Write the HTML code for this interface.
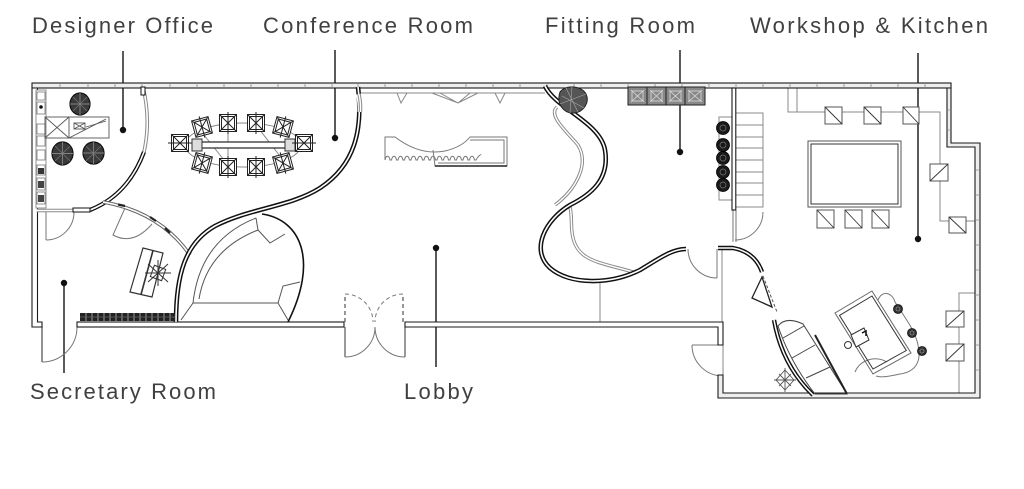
<!DOCTYPE html>
<html><head><meta charset="utf-8"><style>
html,body{margin:0;padding:0;background:#fff;}
svg{display:block;}
text{font-family:"Liberation Sans",sans-serif;font-size:22px;fill:#404040;}
</style></head><body>
<svg width="1024" height="489" viewBox="0 0 1024 489" xmlns="http://www.w3.org/2000/svg">
<rect width="1024" height="489" fill="#fff"/>

<!-- Labels -->
<text x="32" y="33" textLength="181" lengthAdjust="spacing">Designer Office</text>
<text x="263" y="33" textLength="210" lengthAdjust="spacing">Conference Room</text>
<text x="545" y="33" textLength="150" lengthAdjust="spacing">Fitting Room</text>
<text x="750" y="33" textLength="238" lengthAdjust="spacing">Workshop &amp; Kitchen</text>
<text x="30" y="399" textLength="186" lengthAdjust="spacing">Secretary Room</text>
<text x="404" y="399" textLength="69" lengthAdjust="spacing">Lobby</text>

<!-- Leader lines -->
<g stroke="#222" stroke-width="1.5">
<line x1="123" y1="51" x2="123" y2="130"/>
<line x1="335" y1="50" x2="335" y2="138"/>
<line x1="680" y1="50" x2="680" y2="152"/>
<line x1="918" y1="53" x2="918" y2="239"/>
<line x1="64" y1="283" x2="64" y2="373"/>
<line x1="436" y1="248" x2="436" y2="367"/>
</g>
<g fill="#111">
<circle cx="123" cy="130" r="3.2"/>
<circle cx="335" cy="138" r="3.2"/>
<circle cx="680" cy="152" r="3.2"/>
<circle cx="918" cy="239" r="3.2"/>
<circle cx="64" cy="283" r="3.2"/>
<circle cx="436" cy="248" r="3.2"/>
</g>

<!-- Thin interior gray lines -->
<g stroke="#888" stroke-width="1" fill="none">
<line x1="357" y1="93" x2="545" y2="93"/>
<path d="M397,93 L401,103 L407,93"/>
<path d="M495,93 L500,103 L505,93"/>
<path d="M432,93 L458,103 L478,93 M440,93 L458,103 L470,93"/>
<line x1="600" y1="283" x2="600" y2="322"/>
<line x1="722" y1="249" x2="722" y2="322"/>
<line x1="723" y1="345" x2="723" y2="375"/>
<rect x="788" y="88" width="9" height="24"/>
<polyline points="797,112 940,112 940,221 976,221"/>
<polyline points="959,398 959,293 976,293"/>
<rect x="735" y="113" width="28" height="94"/>
<line x1="735" y1="125" x2="763" y2="125"/>
<line x1="735" y1="137" x2="763" y2="137"/>
<line x1="735" y1="148" x2="763" y2="148"/>
<line x1="735" y1="160" x2="763" y2="160"/>
<line x1="735" y1="172" x2="763" y2="172"/>
<line x1="735" y1="183" x2="763" y2="183"/>
<line x1="735" y1="195" x2="763" y2="195"/>
<rect x="719" y="117" width="13" height="83"/>
</g>

<!-- Doors -->
<g stroke="#777" stroke-width="1" fill="none">
<line x1="42" y1="327" x2="42" y2="362" stroke-width="1.6"/>
<path d="M77,327 A35,35 0 0 1 42,362"/>
<line x1="46" y1="212" x2="46" y2="240"/>
<path d="M46,240 A28,28 0 0 0 74,212"/>
<path d="M125,208 L113,235 Q133,246 152,224"/>
<line x1="345" y1="327" x2="345" y2="357" stroke-width="1.5"/>
<path d="M345,357 A30,30 0 0 0 375,327"/>
<line x1="405" y1="327" x2="405" y2="357" stroke-width="1.5"/>
<path d="M405,357 A30,30 0 0 1 375,327"/>
<g stroke-dasharray="4,3">
<line x1="345" y1="322" x2="345" y2="294" stroke-width="1.5"/>
<path d="M345,294 A28,28 0 0 1 373,322"/>
<line x1="403" y1="322" x2="403" y2="294" stroke-width="1.5"/>
<path d="M403,294 A28,28 0 0 0 375,322"/>
</g>
<line x1="717" y1="249" x2="717" y2="278"/>
<path d="M688,249 A29,29 0 0 0 717,278"/>
<path d="M735,240 A28,28 0 0 0 763,212"/>
<line x1="692" y1="345" x2="720" y2="345"/>
<path d="M692,345 A31,31 0 0 0 723,376"/>
<line x1="733" y1="210" x2="733" y2="242"/>
<line x1="736" y1="210" x2="736" y2="242"/>
</g>

<!-- Outer walls -->
<g stroke="#1a1a1a" stroke-width="1.1">
<rect x="32" y="83" width="919" height="5" fill="#eee"/>
<polygon points="32,88 37.5,88 37.5,322 42,322 42,327 32,327" fill="#fff"/>
<rect x="77" y="322" width="267" height="5" fill="#fff"/>
<polygon points="405,322 723,322 723,345 718,345 718,327 405,327" fill="#fff"/>
<polygon points="718,375 718,398 980,398 980,143 951,143 951,88 947,88 947,147 975,147 975,393 723,393 723,375" fill="#eee"/>
<rect x="732" y="88" width="3.8" height="122" fill="#fff"/>
</g>
<g stroke="#888" stroke-width="0.8">
<path d="M60,83v5M88,83v5M115,83v5M142,83v5M170,83v5M197,83v5M224,83v5M251,83v5M278,83v5M305,83v5M332,83v5M358,83v5M385,83v5M412,83v5M439,83v5M466,83v5M493,83v5M520,83v5M547,83v5M574,83v5M601,83v5M628,83v5M655,83v5M682,83v5M709,83v5M736,83v5M763,83v5M790,83v5M817,83v5M844,83v5M871,83v5M898,83v5M925,83v5"/>
<path d="M947,110h4M947,130h4M975,170h5M975,195h5M975,220h5M975,245h5M975,270h5M975,295h5M975,320h5M975,345h5M975,370h5"/>
</g>

<!-- Designer office walls -->
<g fill="none">
<path d="M143,87 Q151,120 144,152" stroke="#888" stroke-width="3.6"/>
<path d="M143,87 Q151,120 144,152" stroke="#fff" stroke-width="1.6"/>
<path d="M144,152 Q128,195 90,210" stroke="#111" stroke-width="4.2"/>
<path d="M144,152 Q128,195 90,210" stroke="#fff" stroke-width="1.6"/>
<path d="M37,210.5 L73,210.5" stroke="#888" stroke-width="3.5"/>
<path d="M37,210.5 L73,210.5" stroke="#fff" stroke-width="1.5"/>
<path d="M103,202 Q160,212 190,255" stroke="#666" stroke-width="3.6"/>
<path d="M103,202 Q160,212 190,255" stroke="#fff" stroke-width="1.6"/>
</g>
<rect x="73" y="208" width="17" height="4" fill="#fff" stroke="#111" stroke-width="1"/>
<rect x="141" y="87" width="4" height="8" fill="#fff" stroke="#111" stroke-width="1"/>
<g stroke="#222" stroke-width="2.2">
<line x1="118" y1="204.5" x2="125" y2="206"/>
<line x1="150" y1="217" x2="156" y2="221"/>
<line x1="165" y1="228" x2="170" y2="233"/>
</g>

<!-- Conference S wall -->
<path d="M358,87 C363,130 355,165 320,188 C290,207 250,208 215,226 C185,243 176,275 176,322" fill="none" stroke="#111" stroke-width="4.6"/>
<path d="M358,87 C363,130 355,165 320,188 C290,207 250,208 215,226 C185,243 176,275 176,322" fill="none" stroke="#fff" stroke-width="1.6"/>
<path d="M359,94 Q361,103 360.5,112" fill="none" stroke="#fff" stroke-width="6"/>
<path d="M359,94 Q361,103 360.5,112" fill="none" stroke="#888" stroke-width="3.4"/>
<path d="M359,94 Q361,103 360.5,112" fill="none" stroke="#fff" stroke-width="1.4"/>

<!-- Reception desk -->
<g fill="none" stroke="#555" stroke-width="1">
<path d="M262,214 C302,220 318,262 288,322" stroke="#111" stroke-width="1.6"/>
<path d="M181,320 L193,303 L278,303 L288,320"/>
<path d="M193,303 Q200,240 256,218"/>
<path d="M199,299 Q207,250 258,230"/>
<path d="M256,218 L258,230 L270,243 L285,234"/>
<path d="M278,303 L283,286 L300,282"/>
</g>

<!-- Fitting room S wall -->
<path d="M557,107 C548,115 565,130 578,145 C590,165 575,190 555,205 M570,207 C572,215 571,225 572,232 C575,262 600,262 633,272" fill="none" stroke="#888" stroke-width="3.4"/>
<path d="M557,107 C548,115 565,130 578,145 C590,165 575,190 555,205 M570,207 C572,215 571,225 572,232 C575,262 600,262 633,272" fill="none" stroke="#fff" stroke-width="1.5"/>
<path d="M545,86 C555,108 600,122 605,150 C610,180 590,195 570,205 C545,220 530,250 550,268 C570,285 610,285 640,270 C660,258 672,249 686,249" fill="none" stroke="#111" stroke-width="4.6"/>
<path d="M545,86 C555,108 600,122 605,150 C610,180 590,195 570,205 C545,220 530,250 550,268 C570,285 610,285 640,270 C660,258 672,249 686,249" fill="none" stroke="#fff" stroke-width="1.6"/>

<!-- Workshop curved walls -->
<path d="M718,248 L733,248 Q755,252 762,272" fill="none" stroke="#111" stroke-width="4.4"/>
<path d="M718,248 L733,248 Q755,252 762,272" fill="none" stroke="#fff" stroke-width="1.5"/>
<path d="M774,320 Q782,365 813,395" fill="none" stroke="#111" stroke-width="4.4"/>
<path d="M774,320 Q782,365 813,395" fill="none" stroke="#fff" stroke-width="1.5"/>
<polygon points="762,277 752,298 772,307" fill="none" stroke="#222" stroke-width="1.3"/>
<line x1="763" y1="276" x2="777" y2="312" stroke="#555" stroke-width="1" stroke-dasharray="3,2"/>
<g fill="none" stroke="#444" stroke-width="1">
<path d="M778,326 Q786,316 803,324 L847,394 L815,394 Q790,362 778,326 Z"/>
<line x1="783" y1="338" x2="804" y2="326"/>
<line x1="792" y1="358" x2="815" y2="345"/>
<line x1="806" y1="378" x2="830" y2="367"/>
</g>
<line x1="815" y1="335" x2="847" y2="394" stroke="#222" stroke-width="2"/>

<!-- Lobby sculpture -->
<g fill="none" stroke="#777" stroke-width="1">
<path d="M385,160 L385,137 L395,137 Q420,156 445,151 Q462,147 470,137 L507,137 L507,166 L435,166 L433,150"/>
<path d="M470,140 L504,140 L504,163 L438,163"/>
<path d="M385,160 c1,-5 4,-5 5,0 l1.5,0 c1,-5 4,-5 5,0 l1.5,0 c1,-5 4,-5 5,0 l1.5,0 c1,-5 4,-5 5,0 l1.5,0 c1,-5 4,-5 5,0 l1.5,0 c1,-5 4,-5 5,0 l1.5,0 c1,-5 4,-5 5,0 l1.5,0 c1,-5 4,-5 5,0 l1.5,0 c1,-5 4,-5 5,0 l1.5,0 c1,-5 4,-5 5,0 l1.5,0 c1,-5 4,-5 5,0 l1.5,0 c1,-5 4,-5 5,0 l1.5,0 c1,-5 4,-5 5,0 l1.5,0 c1,-5 4,-5 5,0 l1.5,0 c2,-4 5,-6 5,-5"/>
</g>
<line x1="435" y1="166" x2="507" y2="166" stroke="#222" stroke-width="1.4"/>

<!-- Designer office furniture -->
<g stroke="#777" stroke-width="0.8" fill="#fff">
<rect x="36" y="90" width="10" height="118"/>
<rect x="37" y="92" width="8" height="8"/>
<rect x="37" y="102" width="8" height="12"/>
<rect x="37" y="124" width="8" height="10"/>
<rect x="37" y="136" width="8" height="10"/>
<rect x="37" y="150" width="8" height="10"/>
<rect x="37" y="165" width="8" height="10"/>
<rect x="37" y="178" width="8" height="12"/>
<rect x="37" y="192" width="8" height="12"/>
</g>
<circle cx="41" cy="107" r="1.8" fill="#111"/>
<rect x="38" y="168" width="6" height="6" fill="#333"/>
<rect x="38" y="181" width="6" height="7" fill="#444"/>
<rect x="38" y="195" width="6" height="7" fill="#444"/>
<g fill="none" stroke="#555" stroke-width="0.9">
<rect x="45" y="117" width="64" height="21"/>
<line x1="69" y1="117" x2="69" y2="138"/>
<line x1="45" y1="117" x2="69" y2="138"/>
<line x1="45" y1="138" x2="69" y2="117"/>
<line x1="69" y1="138" x2="106" y2="119"/>
<line x1="86" y1="127" x2="106" y2="121"/>
<rect x="74" y="123" width="11" height="6"/>
<line x1="74" y1="123" x2="85" y2="129"/>
<line x1="74" y1="129" x2="85" y2="123"/>
</g>
<g stroke="#111" stroke-width="1.2">
<ellipse cx="80" cy="104" rx="10" ry="11" fill="#3a3a3a"/>
<ellipse cx="62.5" cy="153.5" rx="10.5" ry="11.5" fill="#3a3a3a"/>
<ellipse cx="93.5" cy="153" rx="10.5" ry="11" fill="#3a3a3a"/>
</g>
<g stroke="#999" stroke-width="0.7">
<path d="M70,104h20M80,93v22M52,153.5h21M62.5,142v23M83,153h21M93.5,142v22"/>
<path d="M73,97l14,14M87,97l-14,14M55,146l15,15M70,146l-15,15M86,146l15,15M101,146l-15,15" stroke="#777"/>
</g>

<!-- Secretary furniture -->
<polygon points="143,248 163,253 152,297 130,292" fill="#fff" stroke="#333" stroke-width="1.2"/>
<line x1="153" y1="250.5" x2="141" y2="294.5" stroke="#333" stroke-width="1.6"/>
<g stroke="#333" stroke-width="1" fill="none">
<path d="M148,264 L168,282 M168,264 L148,282 M158,260 L158,286 M145,273 L171,273"/>
<rect x="152" y="267" width="12" height="12" transform="rotate(20 158 273)"/>
</g>
<rect x="80" y="313" width="95" height="8" fill="#222"/>
<g stroke="#bbb" stroke-width="0.8">
<path d="M86,313v8M92,313v8M98,313v8M104,313v8M110,313v8M116,313v8M122,313v8M128,313v8M134,313v8M140,313v8M146,313v8M152,313v8M158,313v8M164,313v8M170,313v8"/>
<path d="M80,317h95" stroke="#666"/>
</g>

<!-- Conference table and chairs -->
<g fill="none" stroke="#888" stroke-width="1">
<ellipse cx="243" cy="145" rx="58" ry="22"/>
<line x1="200" y1="130" x2="228" y2="165"/>
<line x1="256" y1="125" x2="283" y2="160"/>
<line x1="228" y1="125" x2="228" y2="165"/>
</g>
<rect x="200" y="142" width="87" height="6" fill="#fff" stroke="#222" stroke-width="1.2"/>
<rect x="192" y="139" width="10" height="12" fill="#ddd" stroke="#333" stroke-width="1"/>
<rect x="285" y="139" width="10" height="12" fill="#ddd" stroke="#333" stroke-width="1"/>
<g stroke="#222" stroke-width="1" fill="#fff">
<g transform="translate(202,127) rotate(-15)"><rect x="-8.5" y="-8.5" width="17" height="17"/><rect x="-6.5" y="-6.5" width="13" height="13" fill="none"/><path d="M-8,-8L8,8M8,-8L-8,8M0,-11V11" fill="none"/></g>
<g transform="translate(228,123)"><rect x="-8.5" y="-8.5" width="17" height="17"/><rect x="-6.5" y="-6.5" width="13" height="13" fill="none"/><path d="M-8,-8L8,8M8,-8L-8,8M0,-11V11" fill="none"/></g>
<g transform="translate(256,123)"><rect x="-8.5" y="-8.5" width="17" height="17"/><rect x="-6.5" y="-6.5" width="13" height="13" fill="none"/><path d="M-8,-8L8,8M8,-8L-8,8M0,-11V11" fill="none"/></g>
<g transform="translate(283,127) rotate(15)"><rect x="-8.5" y="-8.5" width="17" height="17"/><rect x="-6.5" y="-6.5" width="13" height="13" fill="none"/><path d="M-8,-8L8,8M8,-8L-8,8M0,-11V11" fill="none"/></g>
<g transform="translate(202,163) rotate(15)"><rect x="-8.5" y="-8.5" width="17" height="17"/><rect x="-6.5" y="-6.5" width="13" height="13" fill="none"/><path d="M-8,-8L8,8M8,-8L-8,8M0,-11V11" fill="none"/></g>
<g transform="translate(228,167)"><rect x="-8.5" y="-8.5" width="17" height="17"/><rect x="-6.5" y="-6.5" width="13" height="13" fill="none"/><path d="M-8,-8L8,8M8,-8L-8,8M0,-11V11" fill="none"/></g>
<g transform="translate(256,167)"><rect x="-8.5" y="-8.5" width="17" height="17"/><rect x="-6.5" y="-6.5" width="13" height="13" fill="none"/><path d="M-8,-8L8,8M8,-8L-8,8M0,-11V11" fill="none"/></g>
<g transform="translate(283,163) rotate(-15)"><rect x="-8.5" y="-8.5" width="17" height="17"/><rect x="-6.5" y="-6.5" width="13" height="13" fill="none"/><path d="M-8,-8L8,8M8,-8L-8,8M0,-11V11" fill="none"/></g>
<g transform="translate(180,143)"><rect x="-8.5" y="-8.5" width="17" height="17"/><rect x="-6.5" y="-6.5" width="13" height="13" fill="none"/><path d="M-8,-8L8,8M8,-8L-8,8M-12,0H12" fill="none"/></g>
<g transform="translate(304,143)"><rect x="-8.5" y="-8.5" width="17" height="17"/><rect x="-6.5" y="-6.5" width="13" height="13" fill="none"/><path d="M-8,-8L8,8M8,-8L-8,8M-12,0H12" fill="none"/></g>
</g>

<!-- Fitting room items -->
<path d="M560,92 C566,84 582,86 586,94 C590,102 584,112 574,113 C564,114 556,104 560,92 Z" fill="#555" stroke="#222" stroke-width="1"/>
<path d="M562,96 L584,108 M566,88 L578,112 M560,104 L586,94 M572,86 L570,113" stroke="#aaa" stroke-width="0.6"/>
<g stroke="#222" stroke-width="1">
<rect x="628" y="87" width="19" height="18" fill="#888"/>
<rect x="647" y="87" width="19" height="18" fill="#888"/>
<rect x="666" y="87" width="19" height="18" fill="#888"/>
<rect x="685" y="87" width="20" height="18" fill="#888"/>
</g>
<g stroke="#ddd" stroke-width="0.8" fill="none">
<path d="M631,90l13,12M644,90l-13,12M650,90l13,12M663,90l-13,12M669,90l13,12M682,90l-13,12M688,90l14,12M702,90l-14,12"/>
<rect x="632" y="91" width="11" height="10"/><rect x="651" y="91" width="11" height="10"/><rect x="670" y="91" width="11" height="10"/><rect x="689" y="91" width="12" height="10"/>
</g>
<g fill="#1a1a1a" stroke="#000" stroke-width="0.8">
<circle cx="723" cy="128" r="6.5"/>
<circle cx="723" cy="145" r="6.5"/>
<circle cx="723" cy="158" r="6.5"/>
<circle cx="723" cy="172" r="6.5"/>
<circle cx="723" cy="185" r="6.5"/>
</g>
<g fill="none" stroke="#777" stroke-width="0.7">
<circle cx="723" cy="128" r="3"/><circle cx="723" cy="145" r="3"/><circle cx="723" cy="158" r="3"/><circle cx="723" cy="172" r="3"/><circle cx="723" cy="185" r="3"/>
</g>

<!-- Workshop furniture -->
<g fill="#fff" stroke="#555" stroke-width="1">
<rect x="808" y="141" width="93" height="66"/>
<rect x="811" y="144" width="87" height="60" stroke="#333"/>
<rect x="825" y="107" width="17" height="17"/>
<rect x="864" y="107" width="17" height="17"/>
<rect x="903" y="107" width="16" height="17"/>
<rect x="930" y="164" width="18" height="17"/>
<rect x="949" y="217" width="17" height="16"/>
<rect x="817" y="210" width="17" height="18"/>
<rect x="845" y="210" width="17" height="18"/>
<rect x="872" y="210" width="17" height="18"/>
<rect x="946" y="311" width="18" height="16"/>
<rect x="946" y="344" width="18" height="17"/>
</g>
<g stroke="#333" stroke-width="0.9">
<path d="M825,107l17,17M864,107l17,17M903,107l16,17M930,181l18,-17M949,217l17,16M817,210l17,18M845,210l17,18M872,210l17,18M946,327l18,-16M946,361l18,-17"/>
</g>
<g fill="none" stroke="#777" stroke-width="1">
<path d="M878,300 C882,290 892,292 895,302 C905,318 915,330 918,345 C922,362 915,372 900,374 C890,376 882,378 876,376"/>
<path d="M855,372 C860,360 875,355 887,362"/>
<polygon points="835,313 872,291 911,353 873,374" stroke="#666"/>
<polygon points="839.5,315.4 872,296 906.3,350.5 873,369" stroke="#333"/>
</g>
<polygon points="851,335 864,328 869,340 856,347" fill="#fff" stroke="#333" stroke-width="1"/>
<path d="M862,333 L866,331 L866,336" stroke="#111" stroke-width="1.5" fill="none"/>
<circle cx="848" cy="345" r="3.5" fill="none" stroke="#333" stroke-width="1"/>
<g fill="#333" stroke="#111" stroke-width="0.8">
<circle cx="898" cy="309" r="4.5"/>
<circle cx="912" cy="333" r="4.5"/>
<circle cx="922" cy="351" r="4.5"/>
</g>
<g fill="none" stroke="#aaa" stroke-width="0.6">
<circle cx="898" cy="309" r="2"/><circle cx="912" cy="333" r="2"/><circle cx="922" cy="351" r="2"/>
</g>
<g fill="none" stroke="#555" stroke-width="0.9">
<polygon points="785,370 794,380 785,390 776,380"/>
<path d="M785,368V392M774,380H796M779,374L791,386M791,374L779,386"/>
</g>
</svg>
</body></html>
